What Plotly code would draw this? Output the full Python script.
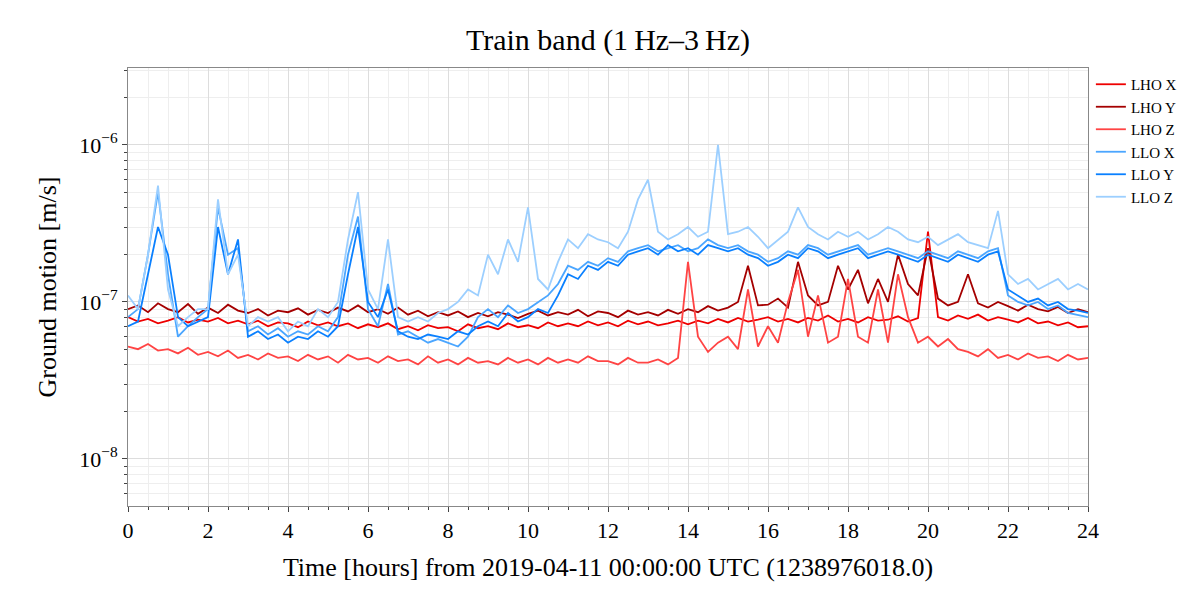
import plotly.graph_objects as go

# samples every 15 minutes, values in units of 1e-8 m/s
hours = [i * 0.25 for i in range(97)]

lho_x = [8, 7.5, 7.8, 7.3, 7.6, 8, 7.4, 7.7, 7.5, 7.9, 7.3, 7.6, 7.2, 7.6, 7.0, 7.4,
         7.3, 6.9, 7.5, 7.1, 7.4, 7.0, 7.3, 6.8, 7.2, 6.9, 7.3, 6.7, 7.0, 6.6, 7.1, 6.8,
         6.9, 6.5, 7.2, 6.8, 7.0, 6.7, 7.3, 6.9, 7.1, 6.8, 7.4, 7.0, 7.3, 7.0, 7.5, 7.1,
         7.4, 7.0, 7.6, 7.2, 7.5, 7.1, 7.3, 7.6, 7.2, 7.6, 7.3, 7.8, 7.4, 7.9, 7.5, 7.7,
         8.0, 7.5, 7.8, 7.4, 7.9, 7.6, 8.2, 7.5, 7.8, 7.4, 8.0, 7.6, 7.7, 8.1, 7.5, 7.9,
         28, 8.0, 7.6, 8.2, 7.8, 8.3, 7.6, 8.0, 7.7, 7.4, 7.9, 7.3, 7.5, 7.1, 7.4, 6.9, 7.0]
lho_y = [9, 9.5, 8.6, 9.8, 9, 8.6, 9.7, 8.4, 9.2, 8.5, 9.6, 8.8, 8.5, 9.0, 8.2, 8.8,
         8.6, 9.1, 8.3, 8.9, 8.5, 9.2, 8.7, 9.5, 8.6, 9.0, 8.4, 9.2, 8.3, 8.8, 8.1, 8.6,
         8.2, 8.7, 8.0, 8.5, 8.1, 8.6, 8.3, 7.9, 8.4, 8.8, 8.2, 8.6, 8.3, 8.9, 8.1, 8.7,
         8.5, 8.0, 8.8, 8.3, 8.6, 8.2, 8.9, 8.4, 9.0, 8.6, 9.4, 8.8, 9.2, 10, 17, 9.5,
         9.6, 10.5, 9.2, 18, 11, 9.5, 10, 17, 12, 16, 9.8, 14, 10, 20, 13, 11,
         22, 10.5, 9.5, 10, 15, 9.8, 9.2, 10, 9.4, 8.8, 9.6, 9.0, 8.7, 9.3, 8.5, 9.0, 8.6]
lho_z = [5.2, 5.0, 5.4, 4.9, 5.0, 4.7, 5.1, 4.6, 4.8, 4.5, 4.9, 4.4, 4.6, 4.3, 4.7, 4.4,
         4.5, 4.2, 4.6, 4.3, 4.5, 4.1, 4.6, 4.3, 4.4, 4.1, 4.5, 4.2, 4.3, 4.0, 4.5, 4.1,
         4.3, 4.0, 4.4, 4.1, 4.2, 4.0, 4.4, 4.1, 4.3, 4.0, 4.4, 4.1, 4.3, 4.1, 4.5, 4.2,
         4.2, 4.0, 4.4, 4.1, 4.1, 4.3, 4.0, 4.4, 18, 6, 4.8, 5.5, 6, 5, 12, 5.2,
         7, 5.5, 10, 16, 6, 11, 5.5, 6, 14, 6, 5.5, 12, 5.5, 15, 8, 5.5,
         6, 5.2, 5.8, 5.0, 4.8, 4.5, 5.0, 4.4, 4.6, 4.3, 4.7, 4.4, 4.5, 4.2, 4.6, 4.3, 4.4]
llo_x = [8, 9, 20, 50, 15, 6, 7, 8, 9, 40, 20, 22, 6.5, 7, 6.2, 6.8,
         6, 6.5, 6.2, 7, 6.5, 8, 20, 35, 9, 7, 13, 6.2, 6.5, 6, 5.5, 5.8,
         5.5, 5.2, 6, 8, 9, 8, 9.5, 8.5, 9, 10, 11, 13, 17, 16, 18, 17,
         19, 18, 21, 22, 23, 21, 22, 23, 21, 22, 25, 23, 22, 23, 21, 20,
         18, 19, 21, 20, 23, 22, 20, 21, 22, 23, 20, 21, 22, 21, 20, 19,
         21, 20, 19, 21, 20, 19, 21, 22, 11, 10, 9.5, 10, 9, 9.5, 8.5, 8.2, 8]
llo_y = [7, 7.5, 15, 30, 20, 8, 7, 7.5, 8, 30, 15, 25, 6, 6.5, 5.8, 6.2,
         5.5, 6, 5.8, 6.5, 6, 7, 15, 30, 10, 8, 12, 6.5, 6, 5.8, 6.2, 6,
         5.8, 6.5, 6.2, 7, 7.5, 7, 8.5, 7.5, 8, 9, 8.5, 11, 15, 14, 17, 16,
         18, 17, 20, 21, 22, 20, 23, 21, 22, 20, 23, 22, 21, 22, 20, 19,
         17, 18, 20, 19, 22, 21, 19, 20, 21, 22, 19, 20, 21, 20, 19, 18,
         20, 19, 18, 20, 19, 18, 20, 21, 12, 11, 10, 10.5, 9.5, 10, 9, 8.8, 8.5]
llo_z = [11, 9, 20, 55, 12, 7, 8, 9, 9, 45, 15, 20, 7, 8, 7.5, 8,
         6.5, 7.5, 7, 9, 8, 10, 25, 50, 12, 9, 25, 8, 7.5, 8, 7.5, 8.5,
         9, 10, 12, 11, 20, 15, 25, 18, 40, 14, 12, 18, 25, 22, 27, 25,
         24, 22, 28, 45, 60, 28, 25, 27, 30, 26, 28, 100, 27, 28, 30, 26,
         22, 25, 28, 40, 30, 27, 25, 28, 26, 28, 25, 27, 30, 28, 25, 24,
         26, 23, 25, 27, 24, 23, 22, 38, 15, 13, 14, 12, 13, 14, 12, 13, 12]

series = [
    ('LHO X', lho_x, '#ee0000'),
    ('LHO Y', lho_y, '#a50000'),
    ('LHO Z', lho_z, '#ff4444'),
    ('LLO X', llo_x, '#4ba6ff'),
    ('LLO Y', llo_y, '#0a80ff'),
    ('LLO Z', llo_z, '#9ccfff'),
]

minor_y = [m * 10.0 ** e for e in (-9, -8, -7, -6) for m in range(2, 10)]

fig = go.Figure()
for name, vals, color in series:
    fig.add_trace(go.Scatter(
        x=hours, y=[v * 1e-8 for v in vals], name=name, mode='lines',
        line=dict(color=color, width=1.8)
    ))

font = 'Liberation Serif'
fig.update_layout(
    width=1200, height=600,
    margin=dict(l=120, r=120, t=60, b=102, autoexpand=False),
    paper_bgcolor='white', plot_bgcolor='white',
    font=dict(family=font, color='black', size=22),
    title=dict(text='Train band (1\u2009Hz\u20133\u2009Hz)', x=0.5, y=0.965,
               xanchor='center', font=dict(size=30)),
    legend=dict(x=1.003, y=1, xanchor='left', yanchor='top', font=dict(size=15),
                bgcolor='rgba(0,0,0,0)'),
    xaxis=dict(range=[0, 24], dtick=2, showline=True, mirror=True, linecolor='#888',
               ticks='outside', gridcolor='#dddddd', zeroline=False, automargin=False,
               minor=dict(dtick=0.5, ticks='outside', showgrid=True, gridcolor='#eeeeee'),
               title=dict(text='Time [hours] from 2019-04-11 00:00:00 UTC (1238976018.0)',
                          font=dict(size=26))),
    yaxis=dict(type='log', range=[-8.3, -5.51], showline=True, mirror=True,
               linecolor='#888', ticks='outside', gridcolor='#dddddd', automargin=False,
               tickvals=[1e-8, 1e-7, 1e-6],
               ticktext=['10<sup>\u22128</sup>', '10<sup>\u22127</sup>', '10<sup>\u22126</sup>'],
               minor=dict(tickvals=minor_y, ticks='outside', showgrid=True, gridcolor='#eeeeee'),
               title=dict(text='Ground motion [m/s]', font=dict(size=26))),
)

fig.write_html('out.html')
